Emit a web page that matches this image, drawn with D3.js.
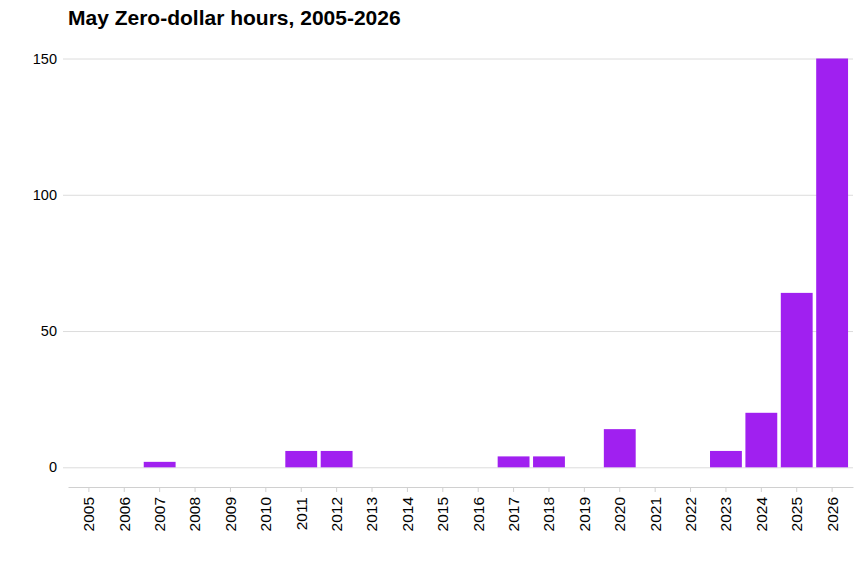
<!DOCTYPE html>
<html>
<head>
<meta charset="utf-8">
<script src="https://cdn.jsdelivr.net/npm/d3@7"></script>
<style>
  body { margin: 0; background: #fff; }
  text { font-family: "Liberation Sans", Arial, sans-serif; }
</style>
</head>
<body>
<div id="chart"></div>
<script>
var years = ["2005", "2006", "2007", "2008", "2009", "2010", "2011", "2012", "2013", "2014", "2015",
  "2016", "2017", "2018", "2019", "2020", "2021", "2022", "2023", "2024", "2025", "2026"];
var hours = [0, 0, 2, 0, 0, 0, 6, 6, 0, 0, 0, 0, 4, 4, 0, 14, 0, 0, 6, 20, 64, 150];
var yTicks = [0, 50, 100, 150];

var w = 863, h = 565;
var svg = d3.select("#chart").append("svg").attr("width", w).attr("height", h);

var x = d3.scaleBand().domain(years).range([68, 853]).paddingInner(0.1).paddingOuter(0.14);
var y = d3.scaleLinear().domain([0, 150]).range([467.3, 58.5]);

// title
svg.append("text").attr("x", 68).attr("y", 25).attr("font-size", 21).attr("font-weight", "bold")
  .attr("fill", "#000").text("May Zero-dollar hours, 2005-2026");

// grid + y labels
var yAxis = svg.append("g").attr("transform", "translate(63,0)")
  .call(d3.axisLeft(y).tickValues(yTicks).tickSize(-790).tickPadding(6));
yAxis.select(".domain").remove();
yAxis.selectAll(".tick line").attr("stroke", "#dcdcdc");
yAxis.selectAll(".tick text").attr("font-size", 14.5).attr("fill", "#000")
  .style("font-family", "'Liberation Sans', Arial, sans-serif");

// bars
svg.append("g").selectAll("rect").data(years).enter().append("rect")
  .attr("x", function(d) { return x(d); })
  .attr("width", x.bandwidth())
  .attr("y", function(d, i) { return y(hours[i]); })
  .attr("height", function(d, i) { return y(0) - y(hours[i]); })
  .attr("fill", "#a020f0");

// x axis
var xAxis = svg.append("g").attr("transform", "translate(0,487)")
  .call(d3.axisBottom(x).tickSize(5).tickSizeOuter(0));
xAxis.select(".domain").attr("stroke", "#d0d0d0");
xAxis.selectAll(".tick line").attr("stroke", "#d0d0d0");
xAxis.selectAll(".tick text")
  .attr("font-size", 15.5).attr("fill", "#000")
  .style("font-family", "'Liberation Sans', Arial, sans-serif")
  .attr("text-anchor", "end")
  .attr("transform", "rotate(-90)")
  .attr("x", -10).attr("y", 0).attr("dy", "0.35em");
</script>
</body>
</html>
